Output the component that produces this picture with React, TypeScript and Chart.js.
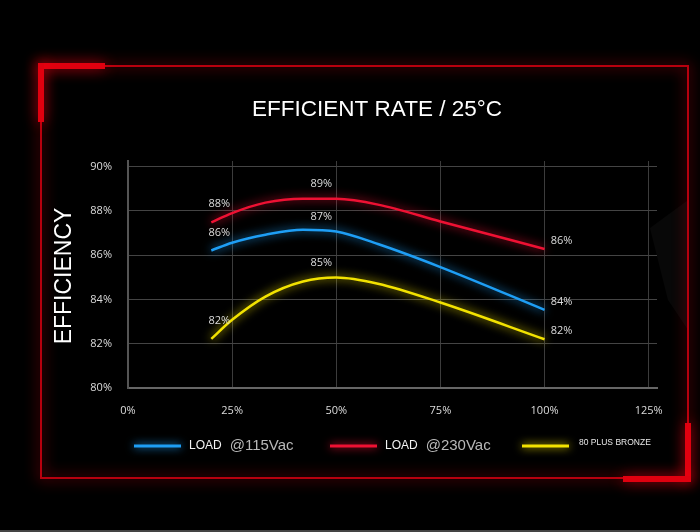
import React, { useEffect, useRef } from "react";
import { Chart, registerables } from "chart.js";

Chart.register(...registerables);

const TITLE = "EFFICIENT RATE / 25°C";
const Y_TITLE = "EFFICIENCY";
const seriesNames = ["LOAD @115Vac", "LOAD @230Vac", "80 PLUS BRONZE"];
const seriesColors = ["#1e9ef5", "#ee1133", "#f2e200"];

const loadPct = [20, 25, 33, 42, 50, 60, 75, 100];
const eff115 = [86.21, 86.56, 86.92, 87.15, 87.07, 86.5, 85.46, 83.53];
const eff230 = [87.48, 87.9, 88.37, 88.55, 88.54, 88.28, 87.52, 86.28];
const effBronze = [82.22, 83.08, 84.13, 84.81, 84.99, 84.71, 83.86, 82.2];

const labelPct = [20, 50, 100];
const labels115 = ["86%", "87%", "84%"];
const labels230 = ["88%", "89%", "86%"];
const labelsBronze = ["82%", "85%", "82%"];

const xTicks = [0, 25, 50, 75, 100, 125];
const yTicks = [80, 82, 84, 86, 88, 90];

const seriesValues = [eff115, eff230, effBronze];
const seriesLabels = [labels115, labels230, labelsBronze];

const SANS = "'Liberation Sans', Arial, sans-serif";
const SMALL = "'Open Sans', 'Liberation Sans', sans-serif";

const framePlugin = {
  id: "frame",
  beforeDraw(chart: any) {
    const ctx = chart.ctx;
    ctx.save();
    ctx.fillStyle = "#000";
    ctx.fillRect(0, 0, chart.width, chart.height);
    // faint decoration on the right
    ctx.fillStyle = "rgba(110,110,110,0.07)";
    ctx.beginPath();
    ctx.moveTo(650, 228);
    ctx.lineTo(688, 200);
    ctx.lineTo(688, 330);
    ctx.lineTo(668, 300);
    ctx.closePath();
    ctx.fill();
    ctx.fillStyle = "#444";
    ctx.fillRect(0, 530, chart.width, 2);
    // thin frame lines
    ctx.shadowColor = "rgba(255,0,20,0.9)";
    ctx.shadowBlur = 14;
    ctx.strokeStyle = "#b8000e";
    ctx.lineWidth = 2;
    ctx.beginPath();
    ctx.moveTo(105, 66);
    ctx.lineTo(688, 66);
    ctx.lineTo(688, 423);
    ctx.moveTo(623, 478);
    ctx.lineTo(41, 478);
    ctx.lineTo(41, 122);
    ctx.stroke();
    // thick corners
    ctx.fillStyle = "#e0000f";
    ctx.fillRect(38, 63, 67, 6);
    ctx.fillRect(38, 63, 6, 59);
    ctx.fillRect(685, 423, 6, 59);
    ctx.fillRect(623, 476, 68, 6);
    ctx.restore();
  },
  afterDraw(chart: any) {
    const ctx = chart.ctx;
    const xs = chart.scales.x;
    const ys = chart.scales.y;
    ctx.save();
    // title
    ctx.fillStyle = "#fff";
    ctx.font = `22.5px ${SANS}`;
    ctx.textAlign = "center";
    ctx.textBaseline = "middle";
    ctx.fillText(TITLE, 377, 110);
    // y title
    ctx.save();
    ctx.translate(65, 276);
    ctx.rotate(-Math.PI / 2);
    ctx.font = `23px ${SANS}`;
    ctx.fillText(Y_TITLE, 0, 0);
    ctx.restore();
    // data labels
    const offs = [
      { dx: 8, dy: -18 },
      { dx: -15, dy: -15 },
      { dx: 17, dy: -8 },
    ];
    ctx.font = `11px ${SMALL}`;
    ctx.fillStyle = "#dcdcdc";
    seriesValues.forEach((vals, s) => {
      labelPct.forEach((p, k) => {
        const i = loadPct.indexOf(p);
        const x = xs.getPixelForValue(p) + offs[k].dx;
        const y = ys.getPixelForValue(vals[i]) + offs[k].dy;
        ctx.fillText(seriesLabels[s][k], x, y);
      });
    });
    // legend
    const starts = [134, 330, 522];
    const len = 47;
    const ly = 446;
    seriesNames.forEach((name, s) => {
      const x0 = starts[s];
      ctx.save();
      ctx.shadowColor = seriesColors[s];
      ctx.shadowBlur = 8;
      ctx.strokeStyle = seriesColors[s];
      ctx.lineWidth = 3;
      ctx.beginPath();
      ctx.moveTo(x0, ly);
      ctx.lineTo(x0 + len, ly);
      ctx.stroke();
      ctx.restore();
      ctx.textAlign = "left";
      ctx.textBaseline = "middle";
      const tx = x0 + len + 8;
      if (name.startsWith("LOAD ")) {
        ctx.font = `12px ${SANS}`;
        ctx.fillStyle = "#f2f2f2";
        ctx.fillText("LOAD", tx, ly);
        const w = ctx.measureText("LOAD").width;
        ctx.font = `15px ${SANS}`;
        ctx.fillStyle = "#b8b8b8";
        ctx.fillText(name.slice(5), tx + w + 8, ly);
      } else {
        ctx.font = `8.5px ${SANS}`;
        ctx.fillStyle = "#e8e8e8";
        ctx.fillText(name, tx + 2, ly - 3);
      }
    });
    ctx.restore();
  },
};

const glowPlugin = {
  id: "glow",
  beforeDatasetDraw(chart: any, args: any) {
    const ctx = chart.ctx;
    ctx.save();
    ctx.shadowColor = chart.data.datasets[args.index].borderColor;
    ctx.shadowBlur = 10;
  },
  afterDatasetDraw(chart: any) {
    chart.ctx.restore();
  },
};

export default function App() {
  const ref = useRef<HTMLCanvasElement>(null);
  useEffect(() => {
    if (!ref.current) return;
    const chart = new Chart(ref.current, {
      type: "line",
      data: {
        datasets: seriesNames.map((name, s) => ({
          label: name,
          data: loadPct.map((x, i) => ({ x, y: seriesValues[s][i] })),
          borderColor: seriesColors[s],
          backgroundColor: seriesColors[s],
          borderWidth: 2.5,
          pointRadius: 0,
          cubicInterpolationMode: "monotone" as const,
          fill: false,
        })),
      },
      options: {
        animation: false,
        responsive: false,
        devicePixelRatio: 1,
        layout: { padding: { left: 48, top: 161, right: 43, bottom: 104 } },
        plugins: { legend: { display: false }, tooltip: { enabled: false } },
        scales: {
          x: {
            type: "linear",
            min: 0,
            max: 127,
            afterBuildTicks: (s: any) => {
              s.ticks = xTicks.map((v) => ({ value: v }));
            },
            afterFit: (s: any) => {
              s.height = 40;
            },
            ticks: {
              color: "#dcdcdc",
              font: { size: 11, family: SMALL },
              padding: 16,
              callback: (v: any) => v + "%",
            },
            grid: { color: "#3c3c3c", lineWidth: 1, drawTicks: false },
            border: { color: "#666", width: 2 },
          },
          y: {
            type: "linear",
            min: 80,
            max: 90.25,
            afterBuildTicks: (s: any) => {
              s.ticks = yTicks.map((v) => ({ value: v }));
            },
            afterFit: (s: any) => {
              s.width = 80;
            },
            ticks: {
              color: "#dcdcdc",
              font: { size: 11, family: SMALL },
              padding: 16,
              callback: (v: any) => v + "%",
            },
            grid: { color: "#444", lineWidth: 1, drawTicks: false },
            border: { color: "#555", width: 2 },
          },
        },
      },
      plugins: [framePlugin, glowPlugin],
    });
    return () => chart.destroy();
  }, []);
  return (
    <div
      style={{
        position: "fixed",
        left: 0,
        top: 0,
        width: 700,
        height: 532,
        background: "#000",
      }}
    >
      <canvas ref={ref} width={700} height={532} style={{ display: "block" }} />
    </div>
  );
}
